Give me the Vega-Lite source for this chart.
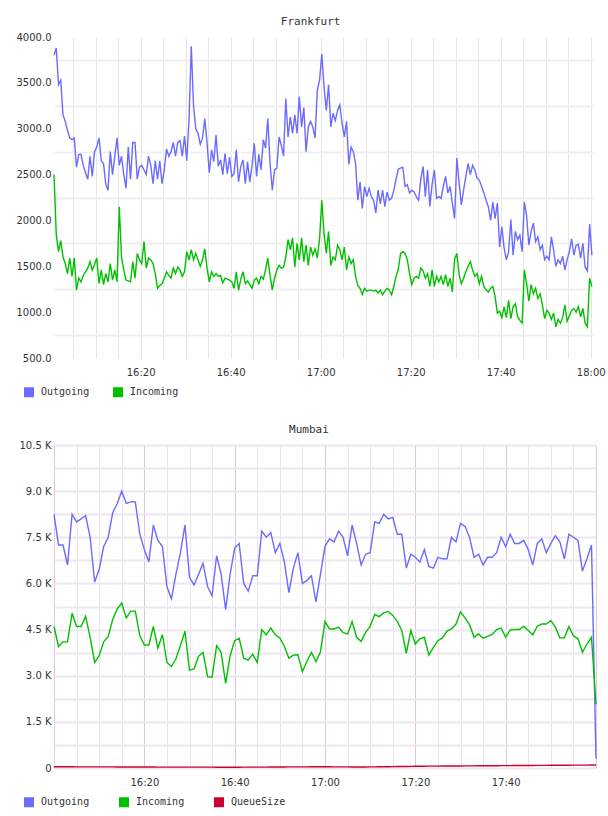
{
  "$schema": "https://vega.github.io/schema/vega-lite/v6.json",
  "background": "white",
  "padding": {"left": 16, "top": 16, "right": 0, "bottom": 0},
  "spacing": 18,
  "config": {
    "view": {"stroke": null},
    "axis": {"title": null, "domain": false, "ticks": false, "labelFont": "DejaVu Sans", "labelFontSize": 10, "labelColor": "#333333", "labelOverlap": false},
    "title": {"font": "DejaVu Sans Mono", "fontSize": 11, "fontWeight": "normal", "color": "#333333", "anchor": "middle", "frame": "bounds", "offset": 5},
    "legend": {"title": null, "orient": "none", "direction": "horizontal", "symbolType": "square", "symbolSize": 25, "symbolStrokeWidth": 5, "columnPadding": 15, "gridAlign": "all", "labelFont": "DejaVu Sans Mono", "labelFontSize": 10, "labelColor": "#333333", "labelOffset": 7}
  },
  "vconcat": [
    {
      "width": 539,
      "height": 321,
      "title": "Frankfurt",
      "data": {
        "values": [
          {"minute":0.75,"Outgoing":3800,"Incoming":2500},
          {"minute":1.25,"Outgoing":3880,"Incoming":1850},
          {"minute":1.75,"Outgoing":3480,"Incoming":1660},
          {"minute":2.25,"Outgoing":3530,"Incoming":1780},
          {"minute":2.75,"Outgoing":3150,"Incoming":1600},
          {"minute":3.25,"Outgoing":3080,"Incoming":1530},
          {"minute":3.75,"Outgoing":2980,"Incoming":1420},
          {"minute":4.25,"Outgoing":2900,"Incoming":1590},
          {"minute":4.75,"Outgoing":2880,"Incoming":1390},
          {"minute":5.25,"Outgoing":2900,"Incoming":1590},
          {"minute":5.75,"Outgoing":2580,"Incoming":1240},
          {"minute":6.25,"Outgoing":2720,"Incoming":1370},
          {"minute":6.75,"Outgoing":2720,"Incoming":1330},
          {"minute":7.25,"Outgoing":2600,"Incoming":1400},
          {"minute":7.75,"Outgoing":2520,"Incoming":1440},
          {"minute":8.25,"Outgoing":2450,"Incoming":1480},
          {"minute":8.75,"Outgoing":2700,"Incoming":1550},
          {"minute":9.25,"Outgoing":2480,"Incoming":1460},
          {"minute":9.75,"Outgoing":2750,"Incoming":1520},
          {"minute":10.25,"Outgoing":2800,"Incoming":1590},
          {"minute":10.75,"Outgoing":2900,"Incoming":1310},
          {"minute":11.25,"Outgoing":2650,"Incoming":1460},
          {"minute":11.75,"Outgoing":2620,"Incoming":1300},
          {"minute":12.25,"Outgoing":2400,"Incoming":1420},
          {"minute":12.75,"Outgoing":2330,"Incoming":1330},
          {"minute":13.25,"Outgoing":2750,"Incoming":1530},
          {"minute":13.75,"Outgoing":2500,"Incoming":1350},
          {"minute":14.25,"Outgoing":2700,"Incoming":1460},
          {"minute":14.75,"Outgoing":2900,"Incoming":1330},
          {"minute":15.25,"Outgoing":2600,"Incoming":2150},
          {"minute":15.75,"Outgoing":2700,"Incoming":1600},
          {"minute":16.25,"Outgoing":2500,"Incoming":1460},
          {"minute":16.75,"Outgoing":2350,"Incoming":1350},
          {"minute":17.25,"Outgoing":2800,"Incoming":1340},
          {"minute":17.75,"Outgoing":2450,"Incoming":1330},
          {"minute":18.25,"Outgoing":2850,"Incoming":1550},
          {"minute":18.75,"Outgoing":2850,"Incoming":1370},
          {"minute":19.25,"Outgoing":2450,"Incoming":1640},
          {"minute":19.75,"Outgoing":2580,"Incoming":1570},
          {"minute":20.25,"Outgoing":2600,"Incoming":1530},
          {"minute":20.75,"Outgoing":2550,"Incoming":1770},
          {"minute":21.25,"Outgoing":2500,"Incoming":1480},
          {"minute":21.75,"Outgoing":2700,"Incoming":1590},
          {"minute":22.25,"Outgoing":2600,"Incoming":1570},
          {"minute":22.75,"Outgoing":2400,"Incoming":1530},
          {"minute":23.25,"Outgoing":2650,"Incoming":1420},
          {"minute":23.75,"Outgoing":2450,"Incoming":1260},
          {"minute":24.25,"Outgoing":2650,"Incoming":1290},
          {"minute":24.75,"Outgoing":2400,"Incoming":1310},
          {"minute":25.25,"Outgoing":2550,"Incoming":1370},
          {"minute":25.75,"Outgoing":2780,"Incoming":1440},
          {"minute":26.25,"Outgoing":2700,"Incoming":1400},
          {"minute":26.75,"Outgoing":2750,"Incoming":1370},
          {"minute":27.25,"Outgoing":2850,"Incoming":1480},
          {"minute":27.75,"Outgoing":2700,"Incoming":1420},
          {"minute":28.25,"Outgoing":2850,"Incoming":1490},
          {"minute":28.75,"Outgoing":2870,"Incoming":1460},
          {"minute":29.25,"Outgoing":2700,"Incoming":1390},
          {"minute":29.75,"Outgoing":2920,"Incoming":1440},
          {"minute":30.25,"Outgoing":2650,"Incoming":1660},
          {"minute":30.75,"Outgoing":3100,"Incoming":1570},
          {"minute":31.25,"Outgoing":3900,"Incoming":1680},
          {"minute":31.75,"Outgoing":3250,"Incoming":1570},
          {"minute":32.25,"Outgoing":3000,"Incoming":1640},
          {"minute":32.75,"Outgoing":2950,"Incoming":1570},
          {"minute":33.25,"Outgoing":2830,"Incoming":1500},
          {"minute":33.75,"Outgoing":2900,"Incoming":1570},
          {"minute":34.25,"Outgoing":3110,"Incoming":1690},
          {"minute":34.75,"Outgoing":2850,"Incoming":1480},
          {"minute":35.25,"Outgoing":2520,"Incoming":1330},
          {"minute":35.75,"Outgoing":2770,"Incoming":1440},
          {"minute":36.25,"Outgoing":2640,"Incoming":1390},
          {"minute":36.75,"Outgoing":2930,"Incoming":1420},
          {"minute":37.25,"Outgoing":2590,"Incoming":1390},
          {"minute":37.75,"Outgoing":2660,"Incoming":1400},
          {"minute":38.25,"Outgoing":2500,"Incoming":1320},
          {"minute":38.75,"Outgoing":2730,"Incoming":1370},
          {"minute":39.25,"Outgoing":2510,"Incoming":1360},
          {"minute":39.75,"Outgoing":2690,"Incoming":1350},
          {"minute":40.25,"Outgoing":2480,"Incoming":1330},
          {"minute":40.75,"Outgoing":2510,"Incoming":1260},
          {"minute":41.25,"Outgoing":2770,"Incoming":1440},
          {"minute":41.75,"Outgoing":2420,"Incoming":1240},
          {"minute":42.25,"Outgoing":2590,"Incoming":1360},
          {"minute":42.75,"Outgoing":2660,"Incoming":1440},
          {"minute":43.25,"Outgoing":2400,"Incoming":1310},
          {"minute":43.75,"Outgoing":2640,"Incoming":1340},
          {"minute":44.25,"Outgoing":2420,"Incoming":1300},
          {"minute":44.75,"Outgoing":2600,"Incoming":1260},
          {"minute":45.25,"Outgoing":2840,"Incoming":1350},
          {"minute":45.75,"Outgoing":2480,"Incoming":1370},
          {"minute":46.25,"Outgoing":2720,"Incoming":1310},
          {"minute":46.75,"Outgoing":2550,"Incoming":1390},
          {"minute":47.25,"Outgoing":2880,"Incoming":1360},
          {"minute":47.75,"Outgoing":2790,"Incoming":1460},
          {"minute":48.25,"Outgoing":3110,"Incoming":1590},
          {"minute":48.75,"Outgoing":2620,"Incoming":1400},
          {"minute":49.25,"Outgoing":2330,"Incoming":1240},
          {"minute":49.75,"Outgoing":2550,"Incoming":1370},
          {"minute":50.25,"Outgoing":2570,"Incoming":1460},
          {"minute":50.75,"Outgoing":2910,"Incoming":1510},
          {"minute":51.25,"Outgoing":2820,"Incoming":1480},
          {"minute":51.75,"Outgoing":2700,"Incoming":1490},
          {"minute":52.25,"Outgoing":3330,"Incoming":1600},
          {"minute":52.75,"Outgoing":2910,"Incoming":1790},
          {"minute":53.25,"Outgoing":3130,"Incoming":1680},
          {"minute":53.75,"Outgoing":2950,"Incoming":1810},
          {"minute":54.25,"Outgoing":3150,"Incoming":1490},
          {"minute":54.75,"Outgoing":2950,"Incoming":1750},
          {"minute":55.25,"Outgoing":3350,"Incoming":1570},
          {"minute":55.75,"Outgoing":3020,"Incoming":1810},
          {"minute":56.25,"Outgoing":3230,"Incoming":1550},
          {"minute":56.75,"Outgoing":2750,"Incoming":1730},
          {"minute":57.25,"Outgoing":3020,"Incoming":1510},
          {"minute":57.75,"Outgoing":3080,"Incoming":1710},
          {"minute":58.25,"Outgoing":3020,"Incoming":1620},
          {"minute":58.75,"Outgoing":2900,"Incoming":1690},
          {"minute":59.25,"Outgoing":3420,"Incoming":1590},
          {"minute":59.75,"Outgoing":3530,"Incoming":1800},
          {"minute":60.25,"Outgoing":3815,"Incoming":2220},
          {"minute":60.75,"Outgoing":3450,"Incoming":1850},
          {"minute":61.25,"Outgoing":3200,"Incoming":1640},
          {"minute":61.75,"Outgoing":3480,"Incoming":1880},
          {"minute":62.25,"Outgoing":3020,"Incoming":1510},
          {"minute":62.75,"Outgoing":3170,"Incoming":1600},
          {"minute":63.25,"Outgoing":3090,"Incoming":1570},
          {"minute":63.75,"Outgoing":3200,"Incoming":1730},
          {"minute":64.25,"Outgoing":3260,"Incoming":1680},
          {"minute":64.75,"Outgoing":3060,"Incoming":1570},
          {"minute":65.25,"Outgoing":2910,"Incoming":1710},
          {"minute":65.75,"Outgoing":3080,"Incoming":1460},
          {"minute":66.25,"Outgoing":2610,"Incoming":1600},
          {"minute":66.75,"Outgoing":2800,"Incoming":1530},
          {"minute":67.25,"Outgoing":2750,"Incoming":1570},
          {"minute":67.75,"Outgoing":2620,"Incoming":1390},
          {"minute":68.25,"Outgoing":2220,"Incoming":1290},
          {"minute":68.75,"Outgoing":2420,"Incoming":1260},
          {"minute":69.25,"Outgoing":2130,"Incoming":1190},
          {"minute":69.75,"Outgoing":2370,"Incoming":1260},
          {"minute":70.25,"Outgoing":2260,"Incoming":1230},
          {"minute":70.75,"Outgoing":2350,"Incoming":1240},
          {"minute":71.25,"Outgoing":2260,"Incoming":1240},
          {"minute":71.75,"Outgoing":2220,"Incoming":1230},
          {"minute":72.25,"Outgoing":2080,"Incoming":1240},
          {"minute":72.75,"Outgoing":2330,"Incoming":1210},
          {"minute":73.25,"Outgoing":2180,"Incoming":1240},
          {"minute":73.75,"Outgoing":2330,"Incoming":1190},
          {"minute":74.25,"Outgoing":2150,"Incoming":1230},
          {"minute":74.75,"Outgoing":2310,"Incoming":1260},
          {"minute":75.25,"Outgoing":2220,"Incoming":1240},
          {"minute":75.75,"Outgoing":2240,"Incoming":1190},
          {"minute":76.25,"Outgoing":2330,"Incoming":1280},
          {"minute":76.75,"Outgoing":2450,"Incoming":1390},
          {"minute":77.25,"Outgoing":2560,"Incoming":1470},
          {"minute":77.75,"Outgoing":2570,"Incoming":1640},
          {"minute":78.25,"Outgoing":2580,"Incoming":1660},
          {"minute":78.75,"Outgoing":2370,"Incoming":1640},
          {"minute":79.25,"Outgoing":2390,"Incoming":1570},
          {"minute":79.75,"Outgoing":2300,"Incoming":1420},
          {"minute":80.25,"Outgoing":2330,"Incoming":1300},
          {"minute":80.75,"Outgoing":2310,"Incoming":1370},
          {"minute":81.25,"Outgoing":2260,"Incoming":1390},
          {"minute":81.75,"Outgoing":2220,"Incoming":1370},
          {"minute":82.25,"Outgoing":2450,"Incoming":1480},
          {"minute":82.75,"Outgoing":2590,"Incoming":1450},
          {"minute":83.25,"Outgoing":2260,"Incoming":1370},
          {"minute":83.75,"Outgoing":2550,"Incoming":1420},
          {"minute":84.25,"Outgoing":2150,"Incoming":1280},
          {"minute":84.75,"Outgoing":2390,"Incoming":1460},
          {"minute":85.25,"Outgoing":2550,"Incoming":1280},
          {"minute":85.75,"Outgoing":2240,"Incoming":1390},
          {"minute":86.25,"Outgoing":2260,"Incoming":1330},
          {"minute":86.75,"Outgoing":2240,"Incoming":1390},
          {"minute":87.25,"Outgoing":2370,"Incoming":1300},
          {"minute":87.75,"Outgoing":2480,"Incoming":1410},
          {"minute":88.25,"Outgoing":2300,"Incoming":1280},
          {"minute":88.75,"Outgoing":2370,"Incoming":1370},
          {"minute":89.25,"Outgoing":2190,"Incoming":1220},
          {"minute":89.75,"Outgoing":2020,"Incoming":1580},
          {"minute":90.25,"Outgoing":2680,"Incoming":1640},
          {"minute":90.75,"Outgoing":2410,"Incoming":1410},
          {"minute":91.25,"Outgoing":2170,"Incoming":1310},
          {"minute":91.75,"Outgoing":2330,"Incoming":1370},
          {"minute":92.25,"Outgoing":2480,"Incoming":1440},
          {"minute":92.75,"Outgoing":2620,"Incoming":1500},
          {"minute":93.25,"Outgoing":2500,"Incoming":1550},
          {"minute":93.75,"Outgoing":2600,"Incoming":1460},
          {"minute":94.25,"Outgoing":2550,"Incoming":1390},
          {"minute":94.75,"Outgoing":2460,"Incoming":1420},
          {"minute":95.25,"Outgoing":2440,"Incoming":1310},
          {"minute":95.75,"Outgoing":2370,"Incoming":1390},
          {"minute":96.25,"Outgoing":2300,"Incoming":1280},
          {"minute":96.75,"Outgoing":2220,"Incoming":1240},
          {"minute":97.25,"Outgoing":2150,"Incoming":1220},
          {"minute":97.75,"Outgoing":2000,"Incoming":1260},
          {"minute":98.25,"Outgoing":2200,"Incoming":1280},
          {"minute":98.75,"Outgoing":2020,"Incoming":1170},
          {"minute":99.25,"Outgoing":2190,"Incoming":990},
          {"minute":99.75,"Outgoing":1710,"Incoming":1010},
          {"minute":100.25,"Outgoing":1930,"Incoming":940},
          {"minute":100.75,"Outgoing":1700,"Incoming":1060},
          {"minute":101.25,"Outgoing":1570,"Incoming":940},
          {"minute":101.75,"Outgoing":1660,"Incoming":1130},
          {"minute":102.25,"Outgoing":2010,"Incoming":930},
          {"minute":102.75,"Outgoing":1620,"Incoming":1060},
          {"minute":103.25,"Outgoing":1880,"Incoming":1090},
          {"minute":103.75,"Outgoing":1790,"Incoming":950},
          {"minute":104.25,"Outgoing":1840,"Incoming":910},
          {"minute":104.75,"Outgoing":1660,"Incoming":880},
          {"minute":105.25,"Outgoing":2200,"Incoming":1460},
          {"minute":105.75,"Outgoing":2050,"Incoming":1310},
          {"minute":106.25,"Outgoing":1730,"Incoming":1120},
          {"minute":106.75,"Outgoing":1880,"Incoming":1300},
          {"minute":107.25,"Outgoing":1970,"Incoming":1200},
          {"minute":107.75,"Outgoing":1770,"Incoming":1260},
          {"minute":108.25,"Outgoing":1820,"Incoming":1150},
          {"minute":108.75,"Outgoing":1680,"Incoming":1200},
          {"minute":109.25,"Outgoing":1730,"Incoming":1080},
          {"minute":109.75,"Outgoing":1570,"Incoming":930},
          {"minute":110.25,"Outgoing":1610,"Incoming":1020},
          {"minute":110.75,"Outgoing":1570,"Incoming":990},
          {"minute":111.25,"Outgoing":1820,"Incoming":920},
          {"minute":111.75,"Outgoing":1680,"Incoming":990},
          {"minute":112.25,"Outgoing":1500,"Incoming":840},
          {"minute":112.75,"Outgoing":1570,"Incoming":920},
          {"minute":113.25,"Outgoing":1530,"Incoming":880},
          {"minute":113.75,"Outgoing":1610,"Incoming":940},
          {"minute":114.25,"Outgoing":1460,"Incoming":1080},
          {"minute":114.75,"Outgoing":1570,"Incoming":900},
          {"minute":115.25,"Outgoing":1660,"Incoming":960},
          {"minute":115.75,"Outgoing":1800,"Incoming":1020},
          {"minute":116.25,"Outgoing":1620,"Incoming":1040},
          {"minute":116.75,"Outgoing":1730,"Incoming":1000},
          {"minute":117.25,"Outgoing":1740,"Incoming":1060},
          {"minute":117.75,"Outgoing":1590,"Incoming":950},
          {"minute":118.25,"Outgoing":1750,"Incoming":1040},
          {"minute":118.75,"Outgoing":1490,"Incoming":880},
          {"minute":119.25,"Outgoing":1450,"Incoming":840},
          {"minute":119.75,"Outgoing":1960,"Incoming":1370},
          {"minute":120.25,"Outgoing":1620,"Incoming":1280}
        ]
      },
      "transform": [{"fold": ["Outgoing", "Incoming"], "as": ["series", "value"]}],
      "mark": {"type": "line", "strokeWidth": 1.4},
      "encoding": {
        "x": {
          "field": "minute", "type": "quantitative",
          "scale": {"domain": [0.75, 120.5], "nice": false, "zero": false},
          "axis": {"values": [5, 10, 15, 20, 25, 30, 35, 40, 45, 50, 55, 60, 65, 70, 75, 80, 85, 90, 95, 100, 105, 110, 115, 120], "labelExpr": "datum.value % 20 == 0 ? (16 + floor(datum.value / 60)) + ':' + (datum.value % 60 == 0 ? '00' : datum.value % 60) : ''", "gridColor": "#e6e6e6", "gridWidth": 1, "labelPadding": 9}
        },
        "y": {
          "field": "value", "type": "quantitative",
          "scale": {"domain": [500, 4000], "nice": false, "zero": false},
          "axis": {"values": [500, 750, 1000, 1250, 1500, 1750, 2000, 2250, 2500, 2750, 3000, 3250, 3500, 3750, 4000], "labelExpr": "datum.value % 500 == 0 ? format(datum.value, '.1f') : ''", "gridColor": "#efefef", "gridWidth": 2, "gridOpacity": {"condition": {"test": "datum.value % 500 == 0", "value": 0}, "value": 1}, "labelPadding": 3}
        },
        "color": {
          "field": "series", "type": "nominal",
          "scale": {"domain": ["Outgoing", "Incoming"], "range": ["#6b6bff", "#00c000"]},
          "legend": {"legendX": -30, "legendY": 350}
        }
      }
    },
    {
      "width": 542,
      "height": 323,
      "title": "Mumbai",
      "view": {"stroke": "#e2c6e2"},
      "data": {
        "values": [
          {"minute":0,"Outgoing":8250,"Incoming":4600,"QueueSize":42},
          {"minute":1,"Outgoing":7250,"Incoming":3950,"QueueSize":41},
          {"minute":2,"Outgoing":7250,"Incoming":4100,"QueueSize":40},
          {"minute":3,"Outgoing":6600,"Incoming":4100,"QueueSize":40},
          {"minute":4,"Outgoing":8250,"Incoming":5030,"QueueSize":39},
          {"minute":5,"Outgoing":8000,"Incoming":4600,"QueueSize":38},
          {"minute":6,"Outgoing":8100,"Incoming":4600,"QueueSize":38},
          {"minute":7,"Outgoing":8200,"Incoming":4930,"QueueSize":37},
          {"minute":8,"Outgoing":7500,"Incoming":4250,"QueueSize":37},
          {"minute":9,"Outgoing":6050,"Incoming":3430,"QueueSize":36},
          {"minute":10,"Outgoing":6450,"Incoming":3650,"QueueSize":36},
          {"minute":11,"Outgoing":7200,"Incoming":4100,"QueueSize":35},
          {"minute":12,"Outgoing":7500,"Incoming":4280,"QueueSize":35},
          {"minute":13,"Outgoing":8300,"Incoming":4830,"QueueSize":35},
          {"minute":14,"Outgoing":8600,"Incoming":5170,"QueueSize":34},
          {"minute":15,"Outgoing":9000,"Incoming":5360,"QueueSize":34},
          {"minute":16,"Outgoing":8600,"Incoming":4880,"QueueSize":33},
          {"minute":17,"Outgoing":8650,"Incoming":5100,"QueueSize":33},
          {"minute":18,"Outgoing":8650,"Incoming":5100,"QueueSize":33},
          {"minute":19,"Outgoing":7600,"Incoming":4300,"QueueSize":32},
          {"minute":20,"Outgoing":7100,"Incoming":4000,"QueueSize":32},
          {"minute":21,"Outgoing":6700,"Incoming":4000,"QueueSize":31},
          {"minute":22,"Outgoing":7900,"Incoming":4600,"QueueSize":31},
          {"minute":23,"Outgoing":7400,"Incoming":3900,"QueueSize":30},
          {"minute":24,"Outgoing":7200,"Incoming":4340,"QueueSize":30},
          {"minute":25,"Outgoing":5900,"Incoming":3430,"QueueSize":30},
          {"minute":26,"Outgoing":5500,"Incoming":3300,"QueueSize":29},
          {"minute":27,"Outgoing":6300,"Incoming":3550,"QueueSize":29},
          {"minute":28,"Outgoing":7000,"Incoming":3980,"QueueSize":29},
          {"minute":29,"Outgoing":7900,"Incoming":4450,"QueueSize":28},
          {"minute":30,"Outgoing":6200,"Incoming":3180,"QueueSize":28},
          {"minute":31,"Outgoing":5950,"Incoming":3220,"QueueSize":28},
          {"minute":32,"Outgoing":6300,"Incoming":3630,"QueueSize":27},
          {"minute":33,"Outgoing":6650,"Incoming":3760,"QueueSize":27},
          {"minute":34,"Outgoing":5900,"Incoming":2970,"QueueSize":27},
          {"minute":35,"Outgoing":5600,"Incoming":2950,"QueueSize":27},
          {"minute":36,"Outgoing":6900,"Incoming":3980,"QueueSize":26},
          {"minute":37,"Outgoing":6300,"Incoming":3760,"QueueSize":26},
          {"minute":38,"Outgoing":5150,"Incoming":2750,"QueueSize":26},
          {"minute":39,"Outgoing":6300,"Incoming":3650,"QueueSize":26},
          {"minute":40,"Outgoing":7150,"Incoming":4140,"QueueSize":26},
          {"minute":41,"Outgoing":7300,"Incoming":4220,"QueueSize":26},
          {"minute":42,"Outgoing":6000,"Incoming":3570,"QueueSize":27},
          {"minute":43,"Outgoing":5750,"Incoming":3510,"QueueSize":27},
          {"minute":44,"Outgoing":6250,"Incoming":3700,"QueueSize":28},
          {"minute":45,"Outgoing":6250,"Incoming":3430,"QueueSize":28},
          {"minute":46,"Outgoing":7700,"Incoming":4500,"QueueSize":29},
          {"minute":47,"Outgoing":7500,"Incoming":4330,"QueueSize":30},
          {"minute":48,"Outgoing":7650,"Incoming":4550,"QueueSize":31},
          {"minute":49,"Outgoing":7000,"Incoming":4330,"QueueSize":32},
          {"minute":50,"Outgoing":7300,"Incoming":4230,"QueueSize":33},
          {"minute":51,"Outgoing":6700,"Incoming":3960,"QueueSize":34},
          {"minute":52,"Outgoing":5700,"Incoming":3570,"QueueSize":35},
          {"minute":53,"Outgoing":6500,"Incoming":3670,"QueueSize":36},
          {"minute":54,"Outgoing":7000,"Incoming":3680,"QueueSize":37},
          {"minute":55,"Outgoing":6000,"Incoming":3130,"QueueSize":38},
          {"minute":56,"Outgoing":6100,"Incoming":3470,"QueueSize":38},
          {"minute":57,"Outgoing":6250,"Incoming":3760,"QueueSize":39},
          {"minute":58,"Outgoing":5400,"Incoming":3460,"QueueSize":40},
          {"minute":59,"Outgoing":6300,"Incoming":3780,"QueueSize":40},
          {"minute":60,"Outgoing":7200,"Incoming":4760,"QueueSize":40},
          {"minute":61,"Outgoing":7450,"Incoming":4520,"QueueSize":39},
          {"minute":62,"Outgoing":7350,"Incoming":4520,"QueueSize":38},
          {"minute":63,"Outgoing":7700,"Incoming":4580,"QueueSize":37},
          {"minute":64,"Outgoing":7500,"Incoming":4400,"QueueSize":36},
          {"minute":65,"Outgoing":6900,"Incoming":4360,"QueueSize":35},
          {"minute":66,"Outgoing":7900,"Incoming":4760,"QueueSize":34},
          {"minute":67,"Outgoing":7300,"Incoming":4250,"QueueSize":33},
          {"minute":68,"Outgoing":6600,"Incoming":4120,"QueueSize":33},
          {"minute":69,"Outgoing":6950,"Incoming":4410,"QueueSize":34},
          {"minute":70,"Outgoing":7000,"Incoming":4600,"QueueSize":35},
          {"minute":71,"Outgoing":8000,"Incoming":4990,"QueueSize":37},
          {"minute":72,"Outgoing":7950,"Incoming":4920,"QueueSize":39},
          {"minute":73,"Outgoing":8250,"Incoming":5040,"QueueSize":41},
          {"minute":74,"Outgoing":8100,"Incoming":5090,"QueueSize":43},
          {"minute":75,"Outgoing":8150,"Incoming":4960,"QueueSize":45},
          {"minute":76,"Outgoing":7600,"Incoming":4770,"QueueSize":47},
          {"minute":77,"Outgoing":7600,"Incoming":4470,"QueueSize":49},
          {"minute":78,"Outgoing":6500,"Incoming":3730,"QueueSize":51},
          {"minute":79,"Outgoing":6950,"Incoming":4470,"QueueSize":53},
          {"minute":80,"Outgoing":6850,"Incoming":4030,"QueueSize":55},
          {"minute":81,"Outgoing":6700,"Incoming":4200,"QueueSize":57},
          {"minute":82,"Outgoing":7100,"Incoming":4250,"QueueSize":58},
          {"minute":83,"Outgoing":6550,"Incoming":3670,"QueueSize":60},
          {"minute":84,"Outgoing":6500,"Incoming":3920,"QueueSize":61},
          {"minute":85,"Outgoing":6850,"Incoming":4140,"QueueSize":62},
          {"minute":86,"Outgoing":6800,"Incoming":4230,"QueueSize":63},
          {"minute":87,"Outgoing":6800,"Incoming":4450,"QueueSize":64},
          {"minute":88,"Outgoing":7500,"Incoming":4520,"QueueSize":65},
          {"minute":89,"Outgoing":7350,"Incoming":4680,"QueueSize":66},
          {"minute":90,"Outgoing":7950,"Incoming":5070,"QueueSize":67},
          {"minute":91,"Outgoing":7850,"Incoming":4880,"QueueSize":68},
          {"minute":92,"Outgoing":7500,"Incoming":4660,"QueueSize":69},
          {"minute":93,"Outgoing":6850,"Incoming":4250,"QueueSize":70},
          {"minute":94,"Outgoing":6950,"Incoming":4360,"QueueSize":71},
          {"minute":95,"Outgoing":6600,"Incoming":4220,"QueueSize":72},
          {"minute":96,"Outgoing":6850,"Incoming":4280,"QueueSize":73},
          {"minute":97,"Outgoing":6850,"Incoming":4340,"QueueSize":74},
          {"minute":98,"Outgoing":7000,"Incoming":4500,"QueueSize":75},
          {"minute":99,"Outgoing":7500,"Incoming":4550,"QueueSize":76},
          {"minute":100,"Outgoing":7200,"Incoming":4250,"QueueSize":77},
          {"minute":101,"Outgoing":7600,"Incoming":4490,"QueueSize":78},
          {"minute":102,"Outgoing":7300,"Incoming":4500,"QueueSize":79},
          {"minute":103,"Outgoing":7300,"Incoming":4500,"QueueSize":80},
          {"minute":104,"Outgoing":7400,"Incoming":4600,"QueueSize":81},
          {"minute":105,"Outgoing":7100,"Incoming":4470,"QueueSize":82},
          {"minute":106,"Outgoing":6600,"Incoming":4330,"QueueSize":83},
          {"minute":107,"Outgoing":7300,"Incoming":4610,"QueueSize":84},
          {"minute":108,"Outgoing":7450,"Incoming":4680,"QueueSize":85},
          {"minute":109,"Outgoing":7000,"Incoming":4680,"QueueSize":86},
          {"minute":110,"Outgoing":7300,"Incoming":4790,"QueueSize":87},
          {"minute":111,"Outgoing":7550,"Incoming":4580,"QueueSize":88},
          {"minute":112,"Outgoing":7350,"Incoming":4230,"QueueSize":89},
          {"minute":113,"Outgoing":6800,"Incoming":4230,"QueueSize":90},
          {"minute":114,"Outgoing":7600,"Incoming":4600,"QueueSize":91},
          {"minute":115,"Outgoing":7500,"Incoming":4300,"QueueSize":92},
          {"minute":116,"Outgoing":7400,"Incoming":4200,"QueueSize":93},
          {"minute":117,"Outgoing":6400,"Incoming":3760,"QueueSize":94},
          {"minute":118,"Outgoing":6800,"Incoming":4030,"QueueSize":95},
          {"minute":119,"Outgoing":7250,"Incoming":4250,"QueueSize":96},
          {"minute":120,"Outgoing":300,"Incoming":2070,"QueueSize":97}
        ]
      },
      "transform": [{"fold": ["Outgoing", "Incoming", "QueueSize"], "as": ["series", "value"]}],
      "mark": {"type": "line", "strokeWidth": 1.4},
      "encoding": {
        "x": {
          "field": "minute", "type": "quantitative",
          "scale": {"domain": [0, 120], "nice": false, "zero": false},
          "axis": {"values": [5, 10, 15, 20, 25, 30, 35, 40, 45, 50, 55, 60, 65, 70, 75, 80, 85, 90, 95, 100, 105, 110, 115], "labelExpr": "datum.value % 20 == 0 ? (16 + floor(datum.value / 60)) + ':' + (datum.value % 60 == 0 ? '00' : datum.value % 60) : ''", "gridColor": {"condition": {"test": "datum.value % 20 == 0", "value": "#dcc4dc"}, "value": "#ece4ec"}, "gridWidth": 1, "labelPadding": 9}
        },
        "y": {
          "field": "value", "type": "quantitative",
          "scale": {"domain": [0, 10500], "nice": false},
          "axis": {"values": [0, 750, 1500, 2250, 3000, 3750, 4500, 5250, 6000, 6750, 7500, 8250, 9000, 9750, 10500], "labelExpr": "datum.value % 1500 != 0 ? '' : datum.value == 0 ? '0' : format(datum.value / 1000, '.1f') + ' K'", "gridColor": "#f0e6f0", "gridWidth": 2, "labelPadding": 3}
        },
        "color": {
          "field": "series", "type": "nominal",
          "scale": {"domain": ["Outgoing", "Incoming", "QueueSize"], "range": ["#6b6bff", "#00c000", "#cc0033"]},
          "legend": {"legendX": -30, "legendY": 352}
        }
      }
    }
  ],
  "resolve": {"scale": {"color": "independent"}, "legend": {"color": "independent"}}
}
